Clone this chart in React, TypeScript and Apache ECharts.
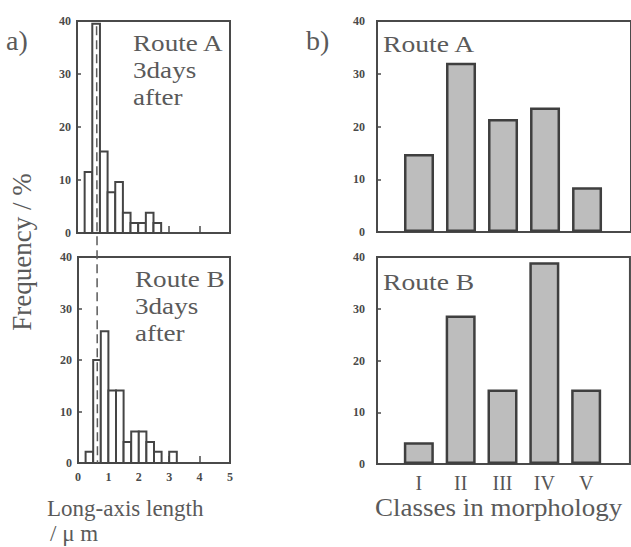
import React, { useEffect, useRef } from "react";
import * as echarts from "echarts";

// ---- data ----
const binEdges = [0.25, 0.5, 0.75, 1.0, 1.25, 1.5, 1.75, 2.0, 2.25, 2.5, 2.75, 3.0, 3.25];
const routeAHist = [11.5, 39.5, 15.4, 7.7, 9.6, 3.8, 1.9, 1.9, 3.8, 1.9, 0, 0];
const routeBHist = [2.2, 20.0, 25.6, 14.1, 14.1, 4.1, 6.1, 6.1, 4.1, 2.2, 0, 2.2];
const lengthTicks = ["0", "1", "2", "3", "4", "5"];
const dashedMarker = 0.64;
const classNames = ["I", "II", "III", "IV", "V"];
const routeAClasses = [14.8, 32.1, 21.4, 23.6, 8.5];
const routeBClasses = [4.2, 28.7, 14.4, 39.0, 14.4];

const SERIF = "'Liberation Serif', 'Times New Roman', serif";
const FRAME = "#4a4a4a";
const TXT = "#4a4a4a";

function histData(vals: number[]) {
  const out: number[][] = [];
  vals.forEach((v, i) => {
    if (v > 0) out.push([binEdges[i], binEdges[i + 1], v]);
  });
  return out;
}

const renderHist = (params: any, api: any) => {
  const x0 = api.value(0);
  const x1 = api.value(1);
  const y = api.value(2);
  const p0 = api.coord([x0, 0]);
  const p1 = api.coord([x1, y]);
  return {
    type: "rect",
    shape: { x: p0[0], y: p1[1], width: p1[0] - p0[0], height: p0[1] - p1[1] },
    style: { fill: "#ffffff", stroke: "#454545", lineWidth: 2 },
  };
};

export default function App() {
  const ref = useRef<HTMLDivElement>(null);
  useEffect(() => {
    if (!ref.current) return;
    const chart = echarts.init(ref.current, undefined, { renderer: "svg" });

    const yAxisBase = (gridIndex: number, margin: number) => ({
      type: "value",
      gridIndex,
      min: 0,
      max: 40,
      interval: 10,
      axisLine: { show: false },
      axisTick: { show: true, inside: true, length: 4, lineStyle: { color: FRAME, width: 1.5 } },
      splitLine: { show: false },
      axisLabel: {
        margin,
        color: TXT,
        fontFamily: SERIF,
        fontWeight: "bold",
        fontSize: 12,
      },
    });

    const gridStyle = { show: true, borderColor: FRAME, borderWidth: 2, backgroundColor: "transparent" };

    chart.setOption({
      animation: false,
      grid: [
        { left: 77, top: 21, width: 153, height: 212, ...gridStyle },
        { left: 78, top: 257, width: 152, height: 206, ...gridStyle },
        { left: 377, top: 21, width: 260, height: 211, ...gridStyle },
        { left: 377, top: 257, width: 260, height: 207, ...gridStyle },
      ],
      xAxis: [
        {
          type: "value", gridIndex: 0, min: 0, max: 5, interval: 1,
          axisLine: { show: false }, splitLine: { show: false },
          axisTick: { show: true, inside: true, length: 7, lineStyle: { color: FRAME, width: 1.5 } },
          axisLabel: { show: false },
        },
        {
          type: "value", gridIndex: 1, min: 0, max: 5, interval: 1,
          axisLine: { show: false }, splitLine: { show: false },
          axisTick: { show: true, inside: true, length: 7, lineStyle: { color: FRAME, width: 1.5 } },
          axisLabel: {
            margin: 8, color: TXT, fontFamily: SERIF, fontWeight: "bold", fontSize: 12,
            formatter: (v: number) => lengthTicks[Math.round(v)] ?? "",
          },
        },
        {
          type: "value", gridIndex: 2, min: 0, max: 260 / 43, interval: 1,
          axisLine: { show: false }, splitLine: { show: false },
          axisTick: { show: false }, axisLabel: { show: false },
        },
        {
          type: "value", gridIndex: 3, min: 0, max: 260 / 43, interval: 1,
          axisLine: { show: false }, splitLine: { show: false },
          axisTick: { show: false },
          axisLabel: {
            margin: 9, color: "#555", fontFamily: SERIF, fontSize: 20,
            showMaxLabel: false,
            formatter: (v: number) => (Number.isInteger(v) && v >= 1 ? classNames[v - 1] ?? "" : ""),
          },
        },
      ],
      yAxis: [yAxisBase(0, 6), yAxisBase(1, 6), yAxisBase(2, 12), yAxisBase(3, 12)],
      series: [
        {
          type: "custom", xAxisIndex: 0, yAxisIndex: 0, renderItem: renderHist,
          encode: { x: [0, 1], y: 2 }, data: histData(routeAHist), clip: false,
        },
        {
          type: "custom", xAxisIndex: 1, yAxisIndex: 1, renderItem: renderHist,
          encode: { x: [0, 1], y: 2 }, data: histData(routeBHist), clip: false,
        },
        {
          type: "bar", xAxisIndex: 2, yAxisIndex: 2, barWidth: 30,
          data: routeAClasses.map((v, i) => [i + 1, v]),
          itemStyle: { color: "#bdbdbd", borderColor: "#3f3f3f", borderWidth: 2.5 },
        },
        {
          type: "bar", xAxisIndex: 3, yAxisIndex: 3, barWidth: 30,
          data: routeBClasses.map((v, i) => [i + 1, v]),
          itemStyle: { color: "#bdbdbd", borderColor: "#3f3f3f", borderWidth: 2.5 },
        },
      ],
    });

    const top = chart.convertToPixel({ gridIndex: 0 } as any, [dashedMarker, 39]) as number[];
    const bot = chart.convertToPixel({ gridIndex: 1 } as any, [dashedMarker, 0]) as number[];

    // baseline-positioned text, using middle alignment
    const t = (text: string, x: number, baseline: number, size: number, extra: any = {}) => ({
      type: "text",
      x,
      y: extra.rotation ? baseline : baseline - 0.12 * size,
      scaleX: extra.scaleX ?? 1,
      rotation: extra.rotation ?? 0,
      z: 10,
      style: {
        text,
        fill: extra.fill ?? "#5a5a5a",
        font: `${size}px ${SERIF}`,
        align: extra.align ?? "left",
        verticalAlign: "middle",
      },
    });

    chart.setOption({
      graphic: [
        {
          type: "line",
          z: 5,
          shape: { x1: top[0], y1: top[1], x2: bot[0], y2: bot[1] },
          style: { stroke: "#5a5a5a", lineWidth: 1.5, lineDash: [9, 5] },
        },
        t("a)", 6, 44, 28),
        t("b)", 306, 44, 28),
        t("Route A", 133, 46, 24, { scaleX: 1.13 }),
        t("3days", 133, 73, 24, { scaleX: 1.13 }),
        t("after", 133, 100, 24, { scaleX: 1.13 }),
        t("Route B", 135, 282, 24, { scaleX: 1.13 }),
        t("3days", 135, 309, 24, { scaleX: 1.13 }),
        t("after", 135, 336, 24, { scaleX: 1.13 }),
        t("Route A", 383, 47, 24, { scaleX: 1.15 }),
        t("Route B", 383, 285, 24, { scaleX: 1.15 }),
        t("Frequency / %", 22, 252, 27, { rotation: Math.PI / 2, align: "center" }),
        t("Long-axis length", 47, 511, 23),
        t("/ \u03bc m", 50, 536, 23),
        t("Classes in morphology", 375, 511, 25, { scaleX: 1.08 }),
      ],
    });

    return () => chart.dispose();
  }, []);
  return (
    <div
      ref={ref}
      style={{ position: "absolute", left: 0, top: 0, width: 631, height: 547, background: "#fff" }}
    />
  );
}
